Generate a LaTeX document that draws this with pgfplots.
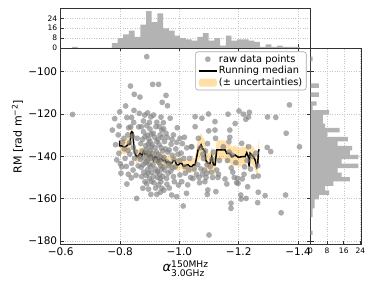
\documentclass[border=0pt]{standalone}
\usepackage{fontspec}
\setmainfont{DejaVu Sans}
\usepackage{amsmath}
\usepackage{pgfplots}
\pgfplotsset{compat=1.18}
\usepackage{pgfplotstable}
\definecolor{mplgray}{HTML}{808080}
\definecolor{mplorange}{HTML}{FFA500}
\definecolor{histgray}{HTML}{B3B3B3}

% running median
\pgfplotstableread{
x med
-0.7988 -132.6
-0.7988 -135.1
-0.8056 -135.1
-0.8150 -135.6
-0.8224 -135.1
-0.8281 -134.2
-0.8337 -134.2
-0.8370 -129.0
-0.8393 -128.4
-0.8430 -128.8
-0.8449 -132.3
-0.8483 -137.8
-0.8528 -139.4
-0.8562 -140.2
-0.8620 -139.8
-0.8674 -138.6
-0.8730 -139.8
-0.8787 -137.8
-0.8840 -139.0
-0.8899 -138.6
-0.8955 -140.2
-0.9010 -139.4
-0.9068 -139.4
-0.9124 -141.8
-0.9180 -140.2
-0.9236 -140.5
-0.9293 -142.5
-0.9350 -141.0
-0.9405 -141.4
-0.9460 -142.0
-0.9517 -141.8
-0.9570 -143.0
-0.9630 -142.5
-0.9690 -143.3
-0.9742 -143.3
-0.9800 -142.0
-0.9855 -142.1
-0.9910 -144.1
-0.9967 -144.1
-1.0020 -143.3
-1.0079 -143.3
-1.0130 -144.6
-1.0192 -144.6
-1.0250 -144.1
-1.0304 -144.1
-1.0360 -144.9
-1.0417 -144.9
-1.0470 -144.1
-1.0529 -144.1
-1.0585 -140.2
-1.0630 -137.0
-1.0664 -136.2
-1.0731 -134.6
-1.0776 -136.2
-1.0820 -137.0
-1.0866 -137.8
-1.0889 -141.8
-1.0956 -143.3
-1.1035 -143.3
-1.1091 -140.2
-1.1147 -144.0
-1.1204 -144.0
-1.1260 -137.0
-1.1316 -137.0
-1.1541 -137.0
-1.1597 -138.6
-1.1710 -138.6
-1.1766 -140.2
-1.1878 -139.4
-1.1991 -140.5
-1.2103 -140.2
-1.2215 -140.2
-1.2272 -138.3
-1.2328 -140.2
-1.2350 -144.9
-1.2384 -138.6
-1.2440 -139.4
-1.2497 -140.2
-1.2553 -141.8
-1.2609 -144.9
-1.2643 -143.3
-1.2665 -137.8
-1.2688 -136.7
}\mediantable

% uncertainty band: upper edge forward, lower edge backward
\pgfplotstableread{
x y
-0.7988 -129.1
-0.7988 -131.6
-0.8056 -131.6
-0.8150 -132.1
-0.8224 -131.6
-0.8281 -130.7
-0.8337 -130.7
-0.8370 -125.5
-0.8393 -124.9
-0.8430 -125.3
-0.8449 -128.8
-0.8483 -134.6
-0.8528 -136.4
-0.8562 -137.2
-0.8620 -136.8
-0.8674 -135.6
-0.8730 -137.0
-0.8787 -135.0
-0.8840 -136.2
-0.8899 -135.8
-0.8955 -137.4
-0.9010 -136.6
-0.9068 -136.6
-0.9124 -139.0
-0.9180 -137.4
-0.9236 -137.7
-0.9293 -139.7
-0.9350 -138.2
-0.9405 -138.6
-0.9460 -139.2
-0.9517 -139.0
-0.9570 -140.2
-0.9630 -139.7
-0.9690 -140.5
-0.9742 -140.5
-0.9800 -139.2
-0.9855 -139.3
-0.9910 -141.3
-0.9967 -141.3
-1.0020 -140.5
-1.0079 -140.5
-1.0130 -141.8
-1.0192 -141.8
-1.0250 -141.3
-1.0304 -141.3
-1.0360 -142.1
-1.0417 -142.1
-1.0470 -140.9
-1.0529 -140.6
-1.0585 -135.7
-1.0630 -132.0
-1.0664 -130.7
-1.0731 -129.1
-1.0776 -130.7
-1.0820 -131.5
-1.0866 -132.6
-1.0889 -136.8
-1.0956 -138.6
-1.1035 -138.6
-1.1091 -135.5
-1.1147 -139.3
-1.1204 -139.3
-1.1260 -132.3
-1.1316 -132.5
-1.1541 -132.5
-1.1597 -134.1
-1.1710 -134.1
-1.1766 -135.7
-1.1878 -134.9
-1.1991 -136.0
-1.2103 -135.7
-1.2215 -135.7
-1.2272 -133.8
-1.2328 -135.7
-1.2350 -140.4
-1.2384 -134.1
-1.2440 -134.9
-1.2497 -135.7
-1.2553 -137.3
-1.2609 -140.4
-1.2643 -138.8
-1.2665 -133.3
-1.2688 -132.2
-1.2688 -141.2
-1.2665 -142.3
-1.2643 -147.8
-1.2609 -149.4
-1.2553 -146.3
-1.2497 -144.7
-1.2440 -143.9
-1.2384 -143.1
-1.2350 -149.4
-1.2328 -144.7
-1.2272 -142.8
-1.2215 -144.7
-1.2103 -144.7
-1.1991 -145.0
-1.1878 -143.9
-1.1766 -144.7
-1.1710 -143.1
-1.1597 -143.1
-1.1541 -141.5
-1.1316 -141.5
-1.1260 -141.7
-1.1204 -148.7
-1.1147 -148.7
-1.1091 -144.9
-1.1035 -148.0
-1.0956 -148.0
-1.0889 -146.8
-1.0866 -143.0
-1.0820 -142.5
-1.0776 -141.7
-1.0731 -140.1
-1.0664 -141.7
-1.0630 -142.0
-1.0585 -144.7
-1.0529 -147.6
-1.0470 -147.3
-1.0417 -147.7
-1.0360 -147.7
-1.0304 -146.9
-1.0250 -146.9
-1.0192 -147.4
-1.0130 -147.4
-1.0079 -146.1
-1.0020 -146.1
-0.9967 -146.9
-0.9910 -146.9
-0.9855 -144.9
-0.9800 -144.8
-0.9742 -146.1
-0.9690 -146.1
-0.9630 -145.3
-0.9570 -145.8
-0.9517 -144.6
-0.9460 -144.8
-0.9405 -144.2
-0.9350 -143.8
-0.9293 -145.3
-0.9236 -143.3
-0.9180 -143.0
-0.9124 -144.6
-0.9068 -142.2
-0.9010 -142.2
-0.8955 -143.0
-0.8899 -141.4
-0.8840 -141.8
-0.8787 -140.6
-0.8730 -142.6
-0.8674 -141.6
-0.8620 -142.8
-0.8562 -143.2
-0.8528 -142.4
-0.8483 -141.0
-0.8449 -135.8
-0.8430 -132.3
-0.8393 -131.9
-0.8370 -132.5
-0.8337 -137.7
-0.8281 -137.7
-0.8224 -138.6
-0.8150 -139.1
-0.8056 -138.6
-0.7988 -138.6
-0.7988 -136.1
}\bandtable

\pgfplotsset{
  base/.style={
    scale only axis,
    axis line style={black!80, line width=0.8pt},
    tick align=inside,
    major tick length=3.5pt,
    tick style={black!80, line width=0.8pt},
    grid=major,
    major grid style={line width=0.5pt, black!22, dash pattern=on 0.8pt off 1.6pt},
    /pgf/number format/assume math mode=true,
  },
  legdot/.style={legend image code/.code={\path[##1, draw=none] (9pt,0pt) circle (2.9pt);}},
  legline/.style={legend image code/.code={\draw[##1] (0pt,0pt) -- (18pt,0pt);}},
  legbox/.style={legend image code/.code={\path[##1, draw=none] (0pt,-4pt) rectangle (18pt,4pt);}},
}

\begin{document}
\begin{tikzpicture}
\path[use as bounding box] (0,0) rectangle (374pt,288pt);

% ---------- main scatter panel ----------
\begin{axis}[base,
  at={(60.7pt,43.7pt)}, anchor=south west,
  width=249.8pt, height=196.3pt,
  x dir=reverse,
  xmin=-1.442, xmax=-0.6, ymin=-181.6, ymax=-88.8,
  tick pos=both,
  xtick={-1.4,-1.2,-1.0,-0.8,-0.6},
  xticklabels={−1.4,−1.2,−1.0,−0.8,−0.6},
  ytick={-180,-160,-140,-120,-100},
  yticklabels={−180,−160,−140,−120,−100},
  tick label style={font=\fontsize{10.5}{12}\selectfont},
  xlabel={\fontsize{13}{15}\selectfont\textit{α}$^{\text{150MHz}}_{\text{3.0GHz}}$},
  x label style={at={(axis description cs:0.5,-0.123)}, anchor=center},
  ylabel={\fontsize{11}{13}\selectfont RM [rad m$^{\text{−2}}$]},
  y label style={at={(axis description cs:-0.173,0.548)}, anchor=center},
  legend cell align=left,
  legend style={at={(1,1)}, anchor=north east, xshift=-4pt, yshift=-3.5pt,
    draw=black!35, line width=0.6pt, rounded corners=2.5pt, fill=white, fill opacity=0.8, draw opacity=1, text opacity=1,
    font=\fontsize{9.8}{11}\selectfont, inner xsep=2.5pt, inner ysep=1.5pt,
    nodes={inner sep=1.4pt}},
]
\addplot[mplgray, only marks, mark=*, mark size=2.9pt,
  mark options={draw opacity=0, fill=mplgray, fill opacity=0.65}, forget plot] coordinates {
(-0.640,-120.2)
(-0.774,-127.6) (-0.782,-122.2) (-0.789,-141.7) (-0.785,-134.5)
(-0.797,-125.7) (-0.794,-129.9) (-0.799,-119.0) (-0.796,-138.6) (-0.803,-148.0) (-0.806,-145.0) (-0.808,-133.4) (-0.801,-143.5)
(-0.819,-116.2) (-0.823,-121.7) (-0.826,-129.9) (-0.817,-141.0) (-0.828,-148.5) (-0.823,-153.1) (-0.814,-136.5) (-0.821,-144.8) (-0.827,-137.2) (-0.813,-131.5) (-0.829,-126.5)
(-0.835,-106.8) (-0.848,-110.7) (-0.839,-121.7) (-0.847,-118.3) (-0.836,-126.1) (-0.839,-143.3) (-0.842,-130.5) (-0.845,-135.8) (-0.833,-139.0) (-0.844,-146.5) (-0.838,-150.2) (-0.846,-124.0) (-0.832,-133.6) (-0.849,-141.0)
(-0.867,-112.0) (-0.865,-119.7) (-0.863,-126.1) (-0.856,-159.9) (-0.852,-137.8) (-0.858,-131.5) (-0.861,-144.5) (-0.854,-149.0) (-0.866,-140.2)
(-0.879,-123.3) (-0.879,-128.4) (-0.884,-130.7) (-0.873,-149.6) (-0.877,-155.1) (-0.870,-134.0) (-0.875,-137.5) (-0.882,-140.8) (-0.886,-143.0) (-0.871,-145.2) (-0.880,-147.5) (-0.884,-152.0) (-0.872,-126.0) (-0.887,-135.0) (-0.876,-132.0) (-0.869,-141.5) (-0.883,-120.5) (-0.878,-144.0) (-0.886,-138.5)
(-0.890,-92.9) (-0.890,-125.5) (-0.901,-127.1) (-0.904,-121.4) (-0.901,-133.1) (-0.895,-148.0) (-0.904,-158.0) (-0.892,-130.0) (-0.897,-131.8) (-0.905,-135.5) (-0.889,-136.8) (-0.894,-138.7) (-0.900,-139.5) (-0.906,-141.2) (-0.891,-142.5) (-0.898,-143.8) (-0.903,-145.0) (-0.893,-146.3) (-0.899,-150.5) (-0.906,-151.8) (-0.890,-153.0) (-0.896,-155.5) (-0.902,-137.2) (-0.895,-134.2) (-0.907,-147.5) (-0.888,-149.0) (-0.899,-124.0) (-0.893,-119.5) (-0.905,-129.5) (-0.897,-141.0)
(-0.910,-106.0) (-0.924,-123.9) (-0.921,-126.0) (-0.912,-129.1) (-0.924,-133.1) (-0.912,-149.6) (-0.924,-158.0) (-0.918,-136.0) (-0.909,-138.5) (-0.915,-140.5) (-0.922,-142.0) (-0.911,-144.0) (-0.919,-146.0) (-0.925,-147.5) (-0.914,-152.5) (-0.920,-155.0) (-0.908,-134.5) (-0.917,-131.0) (-0.923,-138.0) (-0.913,-120.5) (-0.926,-150.0)
(-0.930,-106.0) (-0.942,-114.5) (-0.935,-129.9) (-0.941,-127.6) (-0.935,-150.4) (-0.941,-155.1) (-0.946,-124.1) (-0.938,-152.0) (-0.928,-132.0) (-0.932,-134.5) (-0.939,-136.0) (-0.944,-137.5) (-0.929,-139.0) (-0.936,-140.2) (-0.943,-141.5) (-0.931,-143.0) (-0.937,-144.5) (-0.940,-146.0) (-0.927,-147.0) (-0.934,-148.5) (-0.944,-149.5) (-0.930,-153.5) (-0.936,-157.0) (-0.942,-131.0) (-0.933,-126.0) (-0.938,-121.5) (-0.945,-145.0) (-0.929,-142.0)
(-0.955,-111.2) (-0.960,-116.1) (-0.955,-129.1) (-0.958,-153.2) (-0.957,-150.4) (-0.948,-156.0) (-0.950,-133.0) (-0.953,-136.5) (-0.961,-138.0) (-0.948,-140.5) (-0.956,-142.5) (-0.963,-144.5) (-0.951,-146.5) (-0.959,-131.0) (-0.947,-127.0) (-0.962,-148.0)
(-0.969,-122.0) (-0.980,-129.9) (-0.972,-134.3) (-0.980,-149.6) (-0.974,-158.3) (-0.966,-137.0) (-0.976,-139.5) (-0.982,-141.5) (-0.968,-143.5) (-0.978,-145.5) (-0.971,-147.0) (-0.983,-152.0) (-0.966,-155.0) (-0.975,-132.0)
(-1.002,-131.5) (-0.991,-133.4) (-1.002,-148.8) (-0.991,-159.1) (-0.997,-153.6) (-0.988,-136.5) (-0.995,-139.0) (-1.000,-142.0) (-0.986,-145.0) (-0.993,-126.5)
(-1.013,-163.5) (-1.019,-144.9) (-1.010,-134.0) (-1.006,-138.5) (-1.015,-141.0) (-1.020,-148.0) (-1.008,-152.0) (-1.017,-131.0)
(-1.025,-136.0) (-1.032,-146.5) (-1.038,-150.0) (-1.028,-153.5) (-1.040,-135.5) (-1.035,-141.0) (-1.024,-157.5)
(-1.053,-121.3) (-1.053,-126.0) (-1.042,-135.5) (-1.050,-146.0) (-1.058,-148.5) (-1.046,-150.5)
(-1.076,-122.0) (-1.064,-131.5) (-1.070,-136.0) (-1.073,-146.0) (-1.078,-148.5) (-1.066,-150.0) (-1.062,-144.0) (-1.079,-139.0) (-1.068,-152.5)
(-1.098,-120.0) (-1.084,-146.5) (-1.096,-155.9) (-1.094,-158.0) (-1.090,-150.0) (-1.086,-152.0) (-1.093,-144.0) (-1.081,-141.0) (-1.088,-137.5) (-1.095,-134.0) (-1.099,-128.0) (-1.092,-148.0)
(-1.100,-177.2) (-1.104,-144.9) (-1.112,-150.0) (-1.108,-147.5) (-1.115,-138.0) (-1.110,-141.5)
(-1.120,-123.6) (-1.120,-127.6) (-1.122,-131.5) (-1.123,-156.7) (-1.130,-150.0) (-1.126,-146.5) (-1.135,-142.0) (-1.132,-148.5)
(-1.148,-135.5) (-1.154,-150.7)
(-1.164,-120.1) (-1.170,-127.6) (-1.170,-131.0) (-1.167,-133.1) (-1.160,-153.1) (-1.174,-162.2) (-1.174,-164.6) (-1.168,-138.0) (-1.162,-142.0) (-1.175,-145.5)
(-1.180,-147.5) (-1.185,-150.0) (-1.190,-143.0) (-1.178,-139.5) (-1.193,-152.5) (-1.188,-124.5)
(-1.201,-118.6) (-1.210,-133.9) (-1.196,-150.4) (-1.212,-150.7) (-1.198,-152.8) (-1.207,-158.3) (-1.208,-160.2)
(-1.216,-120.1) (-1.224,-122.5) (-1.225,-159.9) (-1.230,-154.4) (-1.220,-145.0) (-1.228,-142.0) (-1.218,-148.5)
(-1.236,-119.2) (-1.233,-121.4) (-1.233,-135.5) (-1.250,-149.6) (-1.245,-140.0) (-1.240,-146.0)
(-1.266,-149.3) (-1.266,-157.0) (-1.264,-161.9) (-1.264,-144.5) (-1.258,-138.5)
(-1.289,-158.6)
(-1.297,-121.4) (-1.296,-135.8) (-1.308,-137.8)
(-1.325,-121.6)
(-1.343,-166.7) (-1.358,-158.3)
(-1.360,-129.1)
(-1.371,-115.7)
(-1.405,-135.5)
};
\addplot[fill=mplorange, fill opacity=0.35, draw=none, forget plot] table[x=x, y=y]{\bandtable};
\addplot[black, line width=1.5pt, forget plot] table[x=x, y=med]{\mediantable};

\addlegendimage{legdot, fill=mplgray, fill opacity=0.65}
\addlegendentry{raw data points}
\addlegendimage{legline, black, line width=1.5pt}
\addlegendentry{Running median}
\addlegendimage{legbox, fill=mplorange, fill opacity=0.35}
\addlegendentry{(± uncertainties)}
\end{axis}

% ---------- top histogram ----------
\begin{axis}[base,
  at={(60.7pt,240pt)}, anchor=south west,
  width=249.8pt, height=39.7pt,
  x dir=reverse,
  xmin=-1.442, xmax=-0.6, ymin=0, ymax=32.2,
  tick pos=left,
  xtick={-1.4,-1.2,-1.0,-0.8,-0.6}, xticklabels={},
  ytick={0,8,16,24},
  tick label style={font=\fontsize{7.5}{8.5}\selectfont},
]
\addplot[ybar interval, fill=histgray, draw=none] coordinates {
(-1.406,1) (-1.3868,1) (-1.3676,1) (-1.3484,2) (-1.3292,1) (-1.31,3)
(-1.2908,1) (-1.2716,5) (-1.2524,6) (-1.2332,7) (-1.214,7) (-1.1948,6)
(-1.1756,10) (-1.1564,2) (-1.1372,8) (-1.118,6) (-1.0988,12) (-1.0796,9)
(-1.0604,6) (-1.0412,7) (-1.022,8) (-1.0028,10) (-0.9836,14) (-0.9644,16)
(-0.9452,28) (-0.926,21) (-0.9068,30) (-0.8876,19) (-0.8684,9) (-0.8492,14)
(-0.83,11) (-0.8108,8) (-0.7916,4) (-0.7724,0) (-0.7532,0) (-0.734,0)
(-0.7148,0) (-0.6956,0) (-0.6764,0) (-0.6572,1) (-0.638,0)
};
\end{axis}

% ---------- right histogram ----------
\begin{axis}[base,
  at={(310.5pt,43.7pt)}, anchor=south west,
  width=50.5pt, height=196.3pt,
  xmin=0, xmax=24.3, ymin=-181.6, ymax=-88.8,
  tick pos=left,
  xtick={0,8,16,24},
  ytick={-180,-160,-140,-120,-100}, yticklabels={},
  tick label style={font=\fontsize{7.5}{8.5}\selectfont},
]
\addplot[xbar interval, fill=histgray, draw=none] coordinates {
(1,-177.2) (0,-175.09) (0,-172.99) (0,-170.88) (1,-168.77) (1,-166.66)
(2,-164.56) (2,-162.45) (4,-160.34) (9,-158.23) (7,-156.13) (11,-154.02)
(19,-151.91) (15,-149.80) (13,-147.70) (23,-145.59) (15,-143.48) (23,-141.37)
(19,-139.27) (20,-137.16) (13,-135.05) (18,-132.94) (8,-130.84) (14,-128.73)
(7,-126.62) (6,-124.51) (6,-122.41) (9,-120.30) (1,-118.19) (3,-116.08)
(0,-113.98) (4,-111.87) (0,-109.76) (4,-107.65) (0,-105.55) (0,-103.44)
(0,-101.33) (0,-99.22) (0,-97.12) (1,-95.01) (0,-92.9)
};
\end{axis}
\end{tikzpicture}
\end{document}
